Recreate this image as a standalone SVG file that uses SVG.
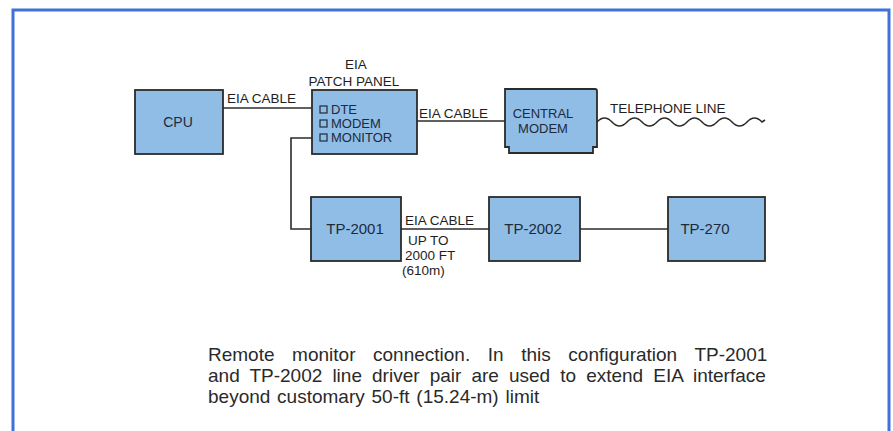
<svg xmlns="http://www.w3.org/2000/svg" width="893" height="431" viewBox="0 0 893 431">
<style>
.box{fill:#8fbde6;stroke:#2b2b2b;stroke-width:1.8}
.lbl{font-family:"Liberation Sans",Arial,sans-serif;font-size:13.5px;fill:#1e1e1e}
.li{font-family:"Liberation Sans",Arial,sans-serif;font-size:13px;fill:#1e2a3a}
.nl{font-family:"Liberation Sans",Arial,sans-serif;font-size:15px;fill:#1e2a3a;text-anchor:middle}
.wire{fill:none;stroke:#2b2b2b;stroke-width:1.6}
.cap{font-family:"Liberation Sans",Arial,sans-serif;font-size:19px;fill:#2a2a2a}
.sq{fill:none;stroke:#1e2a3a;stroke-width:1.2}
</style>
<rect x="0" y="0" width="893" height="431" fill="#ffffff"/>
<path d="M13,431 V10 H889 V431" fill="none" stroke="#3f72d9" stroke-width="3"/>
<g id="connectors">
<line class="wire" x1="223" y1="108" x2="312" y2="108"/>
<line class="wire" x1="417" y1="121" x2="505" y2="121"/>
<path class="wire" d="M312,138 H291 V229 H311"/>
<line class="wire" x1="401" y1="229" x2="489" y2="229"/>
<line class="wire" x1="580" y1="229" x2="668" y2="229"/>
<path class="wire" d="M597,122 q7.5,-8 15,0 t15,0 t15,0 t15,0 t15,0 t15,0 t15,0 t15,0 t15,0 t15,0 t15,0 l3,-2"/>
<text class="lbl" x="227" y="103">EIA CABLE</text>
<text class="lbl" x="419" y="118">EIA CABLE</text>
<text class="lbl" x="610" y="113">TELEPHONE LINE</text>
<text class="lbl" x="405" y="225">EIA CABLE</text>
<text class="lbl" x="408" y="245">UP TO</text>
<text class="lbl" x="405" y="260">2000 FT</text>
<text class="lbl" x="402" y="275">(610m)</text>
</g>
<g id="cpu">
<rect class="box" x="135" y="90" width="88" height="64"/>
<text class="nl" x="178" y="127" style="font-size:14px">CPU</text>
</g>
<g id="patch-panel">
<text class="lbl" x="356" y="69" text-anchor="middle">EIA</text>
<text class="lbl" x="354" y="86" text-anchor="middle">PATCH PANEL</text>
<rect class="box" x="312" y="90" width="105" height="64"/>
<rect class="sq" x="320" y="106" width="7" height="7"/>
<rect class="sq" x="320" y="120" width="7" height="7"/>
<rect class="sq" x="320" y="134" width="7" height="7"/>
<text class="li" x="331" y="114">DTE</text>
<text class="li" x="331" y="128">MODEM</text>
<text class="li" x="331" y="142">MONITOR</text>
</g>
<g id="central-modem">
<path class="box" d="M505,89 H595 Q597,89 597,91 V147 H593 V153 H509 V147 H505 Z"/>
<text class="nl" x="543" y="118" style="font-size:13px">CENTRAL</text>
<text class="nl" x="543" y="133" style="font-size:13px">MODEM</text>
</g>
<g id="tp2001">
<rect class="box" x="311" y="197" width="90" height="64"/>
<text class="nl" x="355" y="234">TP-2001</text>
</g>
<g id="tp2002">
<rect class="box" x="489" y="197" width="91" height="64"/>
<text class="nl" x="533" y="234">TP-2002</text>
</g>
<g id="tp270">
<rect class="box" x="668" y="197" width="97" height="64"/>
<text class="nl" x="705" y="234">TP-270</text>
</g>
<g id="caption">
<text class="cap" x="208" y="361" word-spacing="12.3">Remote monitor connection. In this configuration TP-2001</text>
<text class="cap" x="208" y="382" word-spacing="4.8">and TP-2002 line driver pair are used to extend EIA interface</text>
<text class="cap" x="208" y="403" word-spacing="1.5">beyond customary 50-ft (15.24-m) limit</text>
</g>
</svg>
